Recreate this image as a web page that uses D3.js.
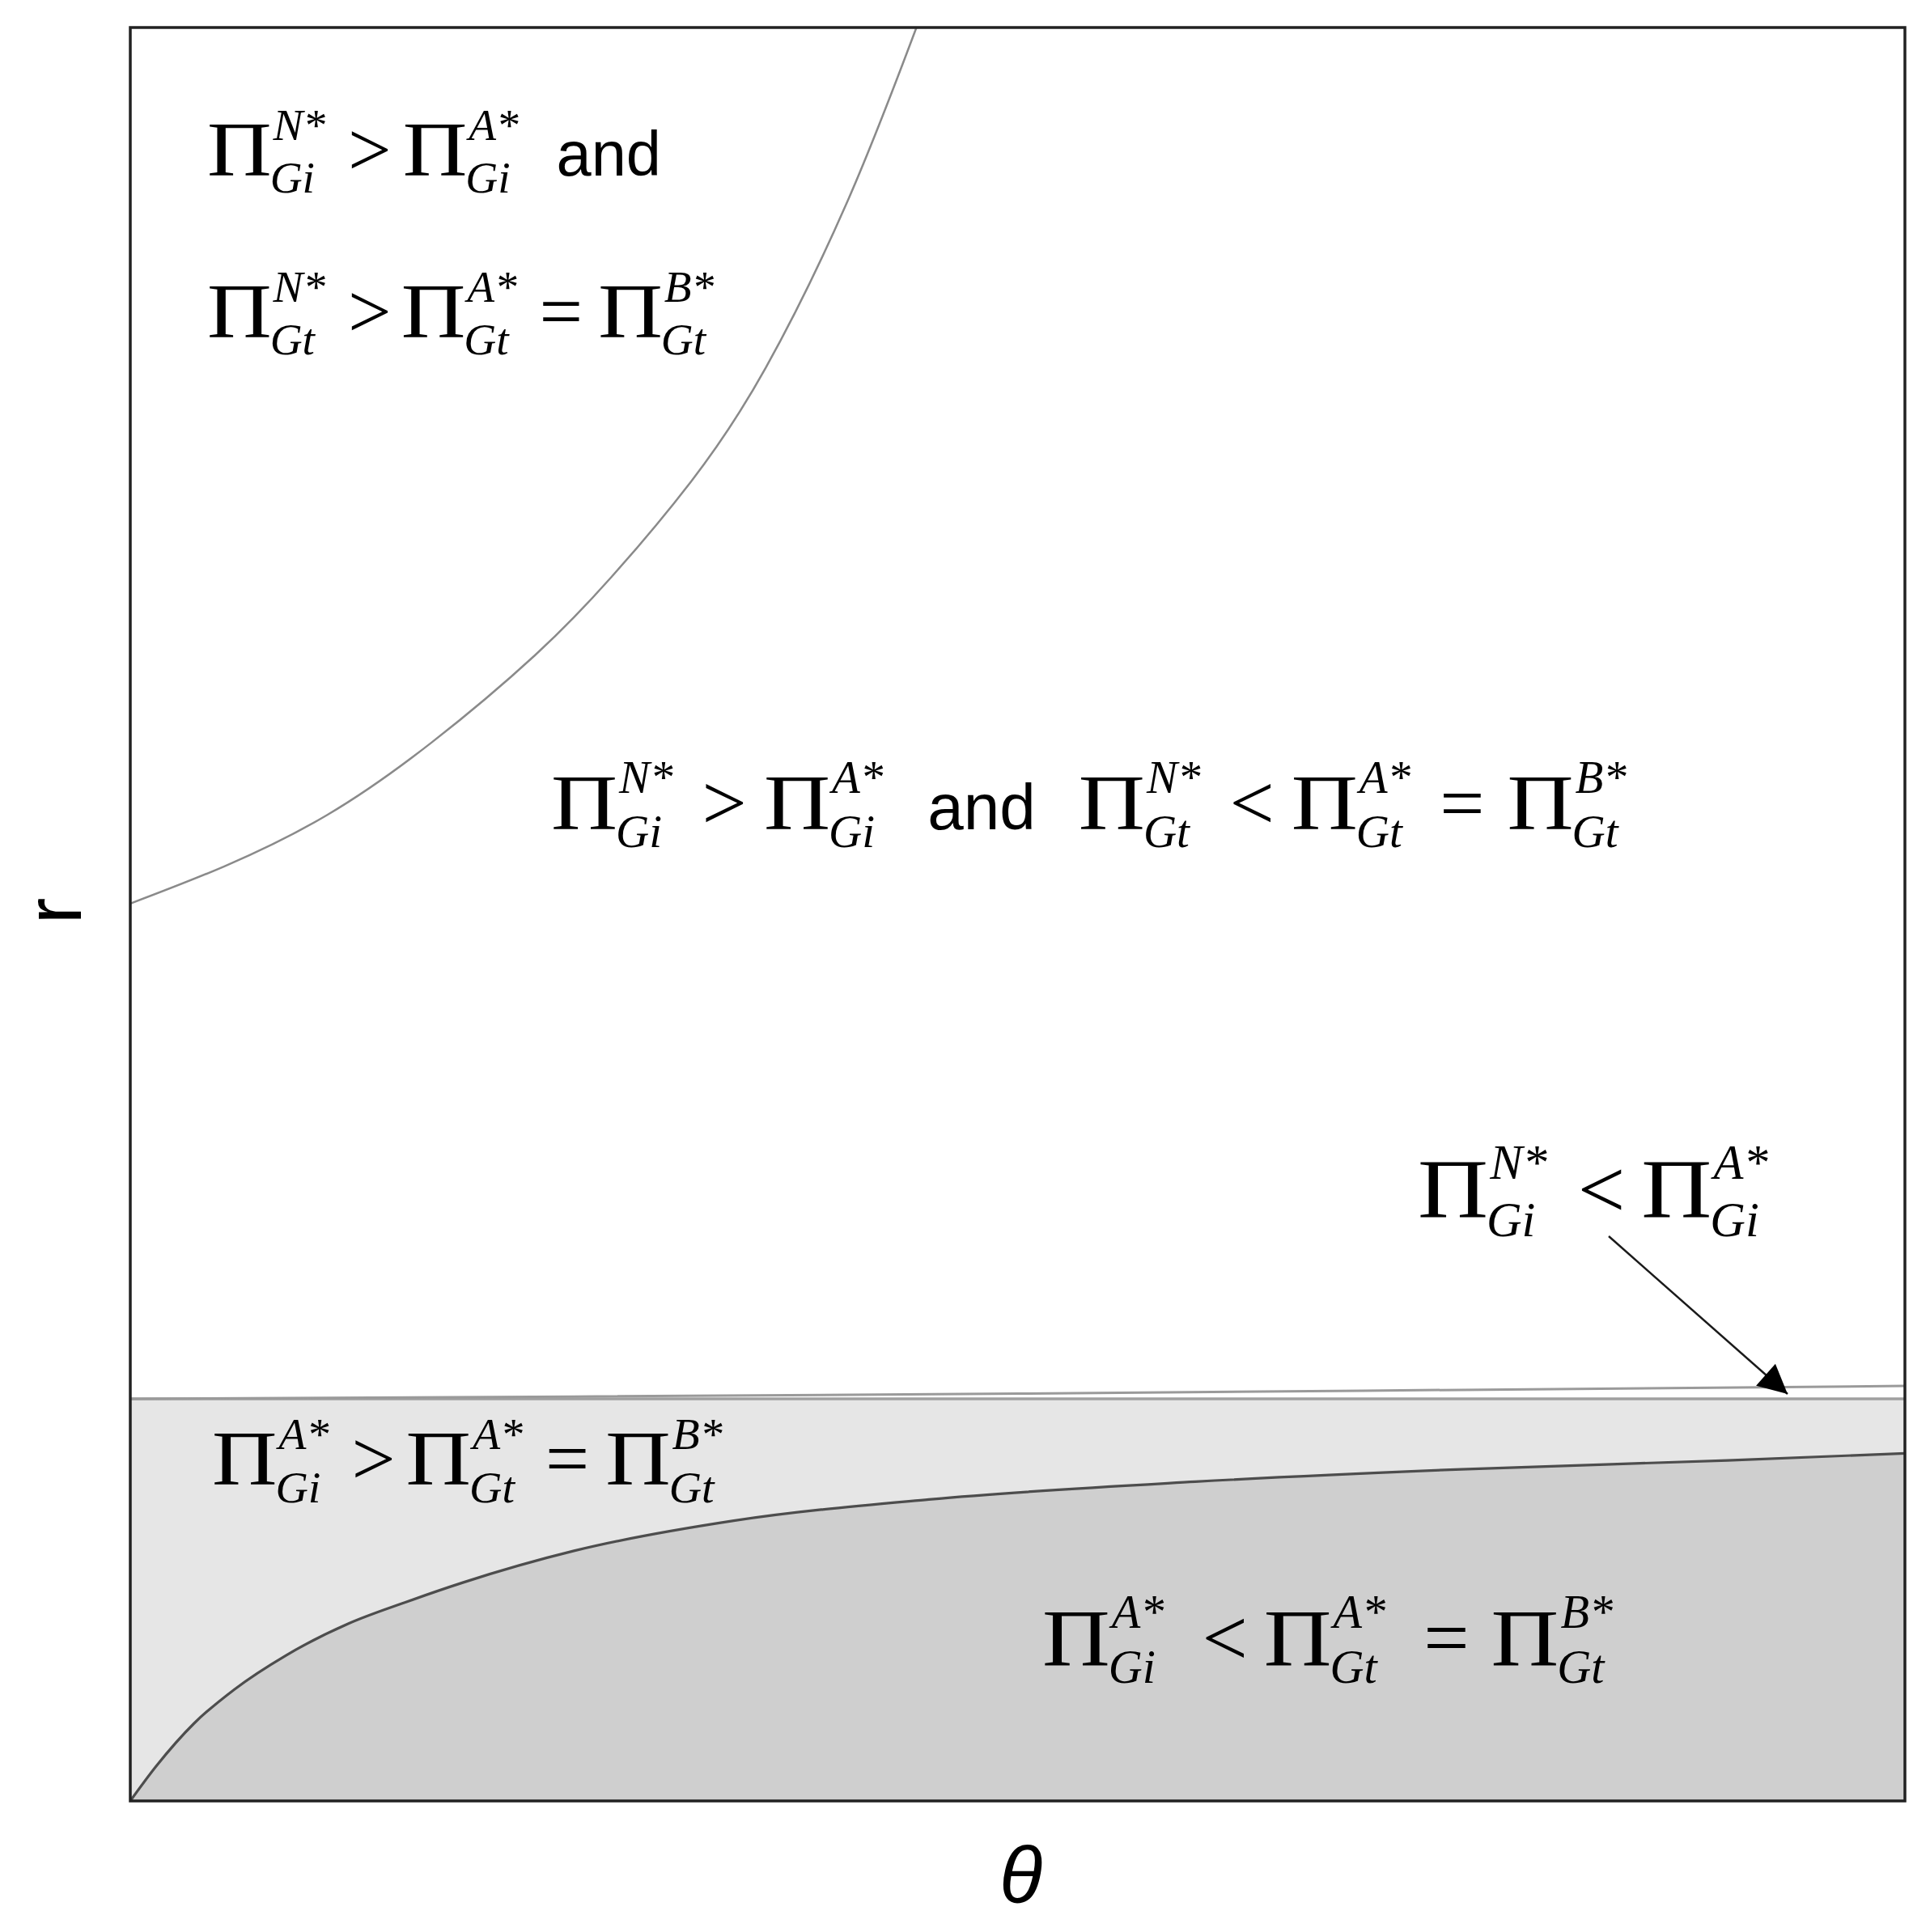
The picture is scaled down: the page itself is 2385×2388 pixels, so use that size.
<!DOCTYPE html>
<html>
<head>
<meta charset="utf-8">
<script src="https://cdn.jsdelivr.net/npm/d3@7"></script>
<style>
  body { margin: 0; background: #fff; }
  svg { display: block; }
</style>
</head>
<body>
<svg id="chart" width="2385" height="2388"></svg>
<script>
// boundary between the white top-left region and the big middle region
var thetaUpper = [0, 0.053, 0.111, 0.170, 0.228, 0.271, 0.316, 0.358, 0.405, 0.443];
var rUpper     = [0.506, 0.527, 0.556, 0.597, 0.646, 0.690, 0.744, 0.808, 0.904, 1.0];

// the thin sliver (N* < A*) between two nearly flat lines
var thetaBand = [0, 0.25, 0.5, 0.75, 1];
var rBandTop  = [0.2267, 0.2280, 0.2297, 0.2318, 0.2340];
var rBandLow  = [0.2267, 0.2267, 0.2267, 0.2267, 0.2267];

// boundary of the dark grey region
var thetaLower = [0, 0.0146, 0.036, 0.0588, 0.0876, 0.123, 0.155, 0.187, 0.25, 0.34, 0.45, 0.6, 0.75, 0.9, 1.0];
var rLower     = [0, 0.0196, 0.0438, 0.063, 0.082, 0.100, 0.112, 0.123, 0.141, 0.158, 0.170, 0.180, 0.187, 0.192, 0.196];

// region labels: "Pi|sup|sub" terms, relation signs and words
var labelTopA  = ["Π|N*|Gi", ">", "Π|A*|Gi", "and"];
var labelTopB  = ["Π|N*|Gt", ">", "Π|A*|Gt", "=", "Π|B*|Gt"];
var labelMid   = ["Π|N*|Gi", ">", "Π|A*|Gi", "and", "Π|N*|Gt", "<", "Π|A*|Gt", "=", "Π|B*|Gt"];
var labelThin  = ["Π|N*|Gi", "<", "Π|A*|Gi"];
var labelLight = ["Π|A*|Gi", ">", "Π|A*|Gt", "=", "Π|B*|Gt"];
var labelDark  = ["Π|A*|Gi", "<", "Π|A*|Gt", "=", "Π|B*|Gt"];

var xLabel = "θ", yLabel = "r";

var svg = d3.select("#chart");
var pLeft = 161, pRight = 2354, pTop = 34, pBottom = 2226;

var x = d3.scaleLinear().domain([0, 1]).range([pLeft, pRight]);
var y = d3.scaleLinear().domain([0, 1]).range([pBottom, pTop]);

function zipPts(xs, ys) {
	return xs.map(function(d, i) { return [d, ys[i]]; });
}

var upperPts = zipPts(thetaUpper, rUpper);
var lowerPts = zipPts(thetaLower, rLower);
var bandTopPts = zipPts(thetaBand, rBandTop);
var bandLowPts = zipPts(thetaBand, rBandLow);

var plot = svg.append("g");

// light grey: everything below the flat line
plot.append("path")
	.datum(bandLowPts)
	.attr("fill", "#e6e6e6")
	.attr("d", d3.area()
		.x(function(d) { return x(d[0]); })
		.y0(y(0))
		.y1(function(d) { return y(d[1]); }));

// dark grey under the lower curve
plot.append("path")
	.datum(lowerPts)
	.attr("fill", "#cfcfcf")
	.attr("d", d3.area()
		.curve(d3.curveMonotoneX)
		.x(function(d) { return x(d[0]); })
		.y0(y(0))
		.y1(function(d) { return y(d[1]); }));

function lineWith(curve) {
	return d3.line()
		.curve(curve)
		.x(function(d) { return x(d[0]); })
		.y(function(d) { return y(d[1]); });
}

plot.append("path").datum(bandLowPts)
	.attr("fill", "none").attr("stroke", "#a0a0a0").attr("stroke-width", 3.5)
	.attr("d", lineWith(d3.curveLinear));
plot.append("path").datum(bandTopPts)
	.attr("fill", "none").attr("stroke", "#9a9a9a").attr("stroke-width", 3)
	.attr("d", lineWith(d3.curveMonotoneX));

plot.append("path").datum(lowerPts)
	.attr("fill", "none").attr("stroke", "#4d4d4d").attr("stroke-width", 3.2)
	.attr("d", lineWith(d3.curveMonotoneX));

plot.append("path").datum(upperPts)
	.attr("fill", "none").attr("stroke", "#8a8a8a").attr("stroke-width", 2.5)
	.attr("d", lineWith(d3.curveNatural));

// frame
svg.append("rect")
	.attr("x", pLeft).attr("y", pTop)
	.attr("width", pRight - pLeft).attr("height", pBottom - pTop)
	.attr("fill", "none").attr("stroke", "#222").attr("stroke-width", 3.5);

// formula text
var serif = "'Liberation Serif', 'Times New Roman', serif";
var sans = "'Liberation Sans', Arial, sans-serif";
var piStretch = 1.16;

// s = size factor, opL / opR = space around relation signs
function formula(tokens, x0, base, s, opL, opR) {
	var g = svg.append("g").attr("class", "formula");
	var big = 98 * s, small = 57 * s;
	var cx = x0;
	tokens.forEach(function(tk) {
		var t;
		if (tk === "and") {
			cx += opL + 19;
			t = g.append("text").attr("x", cx).attr("y", base)
				.style("font-family", sans).style("font-size", (80 * s) + "px").text("and");
			cx += t.node().getComputedTextLength() + opL + 17;
		} else if (tk === ">" || tk === "<" || tk === "=") {
			cx += opL;
			t = g.append("text").attr("x", cx).attr("y", base)
				.style("font-family", serif).style("font-size", big + "px").text(tk);
			cx += t.node().getComputedTextLength() + opR + (tk === "=" ? 7 : 0);
		} else {
			var p = tk.split("|");
			// the Pi of the original is a wide Symbol-style glyph
			t = g.append("text").attr("x", 0).attr("y", 0)
				.attr("transform", "translate(" + cx + "," + base + ") scale(" + piStretch + ",1)")
				.style("font-family", serif).style("font-size", big + "px").text(p[0]);
			cx += t.node().getComputedTextLength() * piStretch - 2;
			var sup = g.append("text").attr("x", cx + 4 * s).attr("y", base - 45 * s)
				.style("font-family", serif).style("font-style", "italic")
				.style("font-size", small + "px").text(p[1]);
			var sub = g.append("text").attr("x", cx).attr("y", base + 22 * s)
				.style("font-family", serif).style("font-style", "italic")
				.style("font-size", small + "px").text(p[2]);
			cx += Math.max(sup.node().getComputedTextLength() + 4 * s, sub.node().getComputedTextLength());
		}
	});
	return g;
}

formula(labelTopA, 256, 217, 0.97, 28, 14);
formula(labelTopB, 256, 417, 0.97, 28, 12);
formula(labelMid, 681, 1025, 1.0, 36, 21);
formula(labelThin, 1752, 1505, 1.06, 38, 20);
formula(labelLight, 262, 1835, 0.98, 28, 13);
formula(labelDark, 1288, 2058, 1.02, 47, 20);

// arrow pointing at the thin sliver
var defs = svg.append("defs");
defs.append("marker")
	.attr("id", "head")
	.attr("viewBox", "0 0 10 10")
	.attr("refX", 10).attr("refY", 5)
	.attr("markerUnits", "userSpaceOnUse")
	.attr("markerWidth", 46).attr("markerHeight", 36)
	.attr("orient", "auto")
	.append("path")
	.attr("d", "M0,0 L10,5 L0,10 z")
	.attr("fill", "#000");

svg.append("line")
	.attr("x1", 1988).attr("y1", 1528)
	.attr("x2", 2209).attr("y2", 1723)
	.attr("stroke", "#1a1a1a").attr("stroke-width", 2.5)
	.attr("marker-end", "url(#head)");

// axis titles
svg.append("text")
	.attr("x", (pLeft + pRight) / 2 + 4).attr("y", 2351)
	.attr("text-anchor", "middle")
	.style("font-family", sans).style("font-style", "italic").style("font-size", "98px")
	.text(xLabel);

svg.append("text")
	.attr("transform", "translate(100," + ((pTop + pBottom) / 2 - 4) + ") rotate(-90)")
	.attr("text-anchor", "middle")
	.style("font-family", sans).style("font-size", "98px")
	.text(yLabel);
</script>
</body>
</html>
